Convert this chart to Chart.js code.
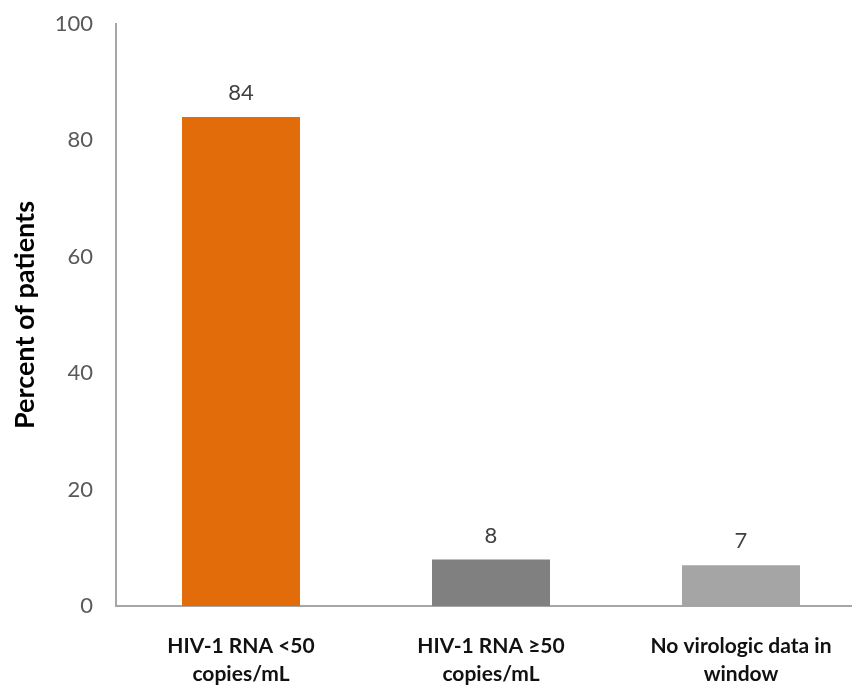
<!DOCTYPE html>
<html>
<head>
<meta charset="utf-8">
<script src="https://cdn.jsdelivr.net/npm/chart.js@4"></script>
<style>
  html, body { margin: 0; padding: 0; background: #ffffff; overflow: hidden; }
  #wrap { width: 866px; height: 687px; }
</style>
</head>
<body>
<div id="wrap"><canvas id="c" width="866" height="687"></canvas></div>
<script>
// Virologic outcome categories and percent of patients in each
const categories = [
  ['HIV-1 RNA <50', 'copies/mL'],
  ['HIV-1 RNA \u226550', 'copies/mL'],
  ['No virologic data in', 'window']
];
const percentValues = [84, 8, 7];
const barColors = ['#E36C0A', '#808080', '#A5A5A5'];
const yTicks = [0, 20, 40, 60, 80, 100];

// Writes each bar's value just above it
const valueLabels = {
  id: 'valueLabels',
  afterDatasetsDraw(chart) {
    const ctx = chart.ctx;
    const meta = chart.getDatasetMeta(0);
    ctx.save();
    ctx.font = '22px Lato';
    ctx.fillStyle = '#404040';
    ctx.textAlign = 'center';
    ctx.textBaseline = 'middle';
    meta.data.forEach((bar, i) => {
      ctx.fillText(String(percentValues[i]), bar.x, bar.y - 24);
    });
    ctx.restore();
  }
};

new Chart(document.getElementById('c'), {
  type: 'bar',
  data: {
    labels: categories,
    datasets: [{
      data: percentValues,
      backgroundColor: barColors,
      borderWidth: 0,
      barPercentage: 0.472,
      categoryPercentage: 1
    }]
  },
  options: {
    responsive: false,
    animation: false,
    layout: { padding: { top: 24, right: 0, bottom: 0, left: 0 } },
    plugins: { legend: { display: false }, tooltip: { enabled: false } },
    scales: {
      x: {
        grid: { display: false, drawTicks: false },
        border: { display: true, color: '#A6A6A6', width: 2 },
        ticks: {
          color: '#111111',
          padding: 26,
          maxRotation: 0,
          autoSkip: false,
          font: { family: 'Lato', size: 21, weight: 'bold', lineHeight: 1.35 }
        },
        afterFit(scale) { scale.height = 81; scale.paddingLeft = 0; scale.paddingRight = 0; }
      },
      y: {
        min: 0,
        max: 100,
        afterBuildTicks(scale) { scale.ticks = yTicks.map(v => ({ value: v })); },
        grid: { display: false, drawTicks: false },
        border: { display: true, color: '#A6A6A6', width: 2 },
        ticks: {
          color: '#595959',
          padding: 23,
          font: { family: 'Lato', size: 22 }
        },
        title: {
          display: true,
          text: 'Percent of patients',
          color: '#000000',
          padding: { top: 9, bottom: 0 },
          font: { family: 'Lato', size: 27, weight: 'bold' }
        },
        afterFit(scale) { scale.width = 116; scale.paddingTop = 0; scale.paddingBottom = 0; }
      }
    }
  },
  plugins: [valueLabels]
});
</script>
</body>
</html>
